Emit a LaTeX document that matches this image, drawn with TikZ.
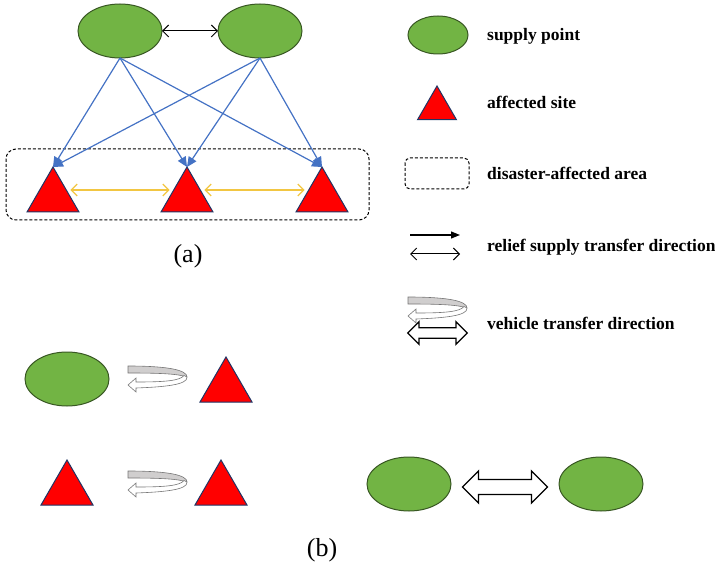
\documentclass[tikz,border=0pt]{standalone}
\usepackage{fontspec}
\setmainfont{Liberation Serif}
\usetikzlibrary{shapes.geometric, arrows.meta}

\definecolor{supplyfill}{RGB}{114,180,68}
\definecolor{supplyedge}{RGB}{56,87,35}
\definecolor{siteedge}{RGB}{32,52,100}
\definecolor{reliefblue}{RGB}{68,114,196}
\definecolor{reliefgold}{RGB}{242,198,66}
\definecolor{turnfill}{RGB}{208,206,206}
\definecolor{turnedge}{RGB}{118,118,118}

\tikzset{
  supply/.style={ellipse, draw=supplyedge, fill=supplyfill, line width=1pt,
    minimum width=84pt, minimum height=54pt, inner sep=0pt, outer sep=0pt},
  site/.style={regular polygon, regular polygon sides=3, draw=siteedge, fill=red,
    line width=1pt, minimum size=60pt, inner sep=0pt, outer sep=0pt},
  area/.style={draw, dashed, dash pattern=on 3pt off 2pt, line width=1pt, rounded corners=10pt},
  legend/.style={anchor=west, font=\fontsize{17.5}{20}\selectfont\bfseries, inner sep=0pt},
  caption/.style={font=\fontsize{26}{30}\selectfont, inner sep=0pt},
  relief/.style={-{Triangle[length=10pt,width=9pt]}, draw=reliefblue, line width=1.2pt},
  swap/.style={{Straight Barb[length=6pt,width=12pt]}-{Straight Barb[length=6pt,width=12pt]}, line width=1pt},
  vehicle arrow/.pic={
    \draw[line width=1.3pt, fill=white, line join=miter]
      (-42.5,0) -- (-26.5,-16) -- (-26.5,-7.5) -- (26.5,-7.5) -- (26.5,-16) -- (42.5,0)
      -- (26.5,16) -- (26.5,7.5) -- (-26.5,7.5) -- (-26.5,16) -- cycle;
  },
  turn arrow/.pic={
    \draw[draw=turnedge, fill=turnfill, line width=.6pt]
      (0,0) .. controls (40,0) and (59,4) .. (59,11) .. controls (50,8) and (35,7) .. (0,7) -- cycle;
    \draw[draw=turnedge, fill=white, line width=.6pt]
      (59,11) .. controls (60,19) and (35,21) .. (8,22) -- (8,26) -- (0,19) -- (8,12) -- (8,16)
      .. controls (35,16) and (52,15) .. (56,9.5) -- cycle;
  }
}

\begin{document}
\begin{tikzpicture}[x=1pt, y=-1pt]
\useasboundingbox (0,0) rectangle (715,564);

% (a) supply points and affected sites
\draw[area] (6,149) rectangle (369,220);
\node[supply] (p1) at (120,31) {};
\node[supply] (p2) at (260,31) {};
\node[site] (s1) at (53,197) {};
\node[site] (s2) at (187,197) {};
\node[site] (s3) at (322,197) {};

% relief supply edges
\draw[swap] (p1.east) -- (p2.west);
\foreach \p in {p1,p2}
  \foreach \s in {s1,s2,s3}
    \draw[relief] (\p.south) -- (\s.corner 1);
\draw[swap, draw=reliefgold, line width=1.3pt] ([yshift=7pt]s1.east) -- ([yshift=7pt]s2.west);
\draw[swap, draw=reliefgold, line width=1.3pt] ([yshift=7pt]s2.east) -- ([yshift=7pt]s3.west);

\node[caption] (capa) at (188,256) {(a)};

% legend
\node[supply, minimum width=60pt, minimum height=38pt] (lp) at (438,35) {};
\node[legend] (lpt) at (487,36) {supply point};
\node[site, minimum size=45pt] (ls) at (437,108.5) {};
\node[legend] (lst) at (487,102) {affected site};
\draw[area, rounded corners=5pt] (405,158) rectangle (469,189);
\node[legend] (lat) at (487,173) {disaster-affected area};
\coordinate (r1) at (410,235);
\coordinate (r2) at (460,235);
\coordinate (r3) at (410,254);
\coordinate (r4) at (460,254);
\draw[-{Triangle[length=9pt,width=7pt]}, line width=1.2pt] (r1) -- (r2);
\draw[swap] (r3) -- (r4);
\node[legend] (lrt) at (487,247) {relief supply transfer direction};
\pic at (408,297) {turn arrow};
\pic[scale=0.7] at (437.5,333) {vehicle arrow};
\node[legend] (lvt) at (487,323) {vehicle transfer direction};

% (b) vehicle transfers
\node[supply] (b1) at (67,379) {};
\node[site] (b2) at (226,387) {};
\pic at (128,366) {turn arrow};
\node[site] (b3) at (67,490) {};
\node[site] (b4) at (221,490) {};
\pic at (128,471) {turn arrow};
\node[supply] (b5) at (409,484) {};
\node[supply] (b6) at (601,484) {};
\pic at (505,487) {vehicle arrow};

\node[caption] (capb) at (322,550) {(b)};

\end{tikzpicture}
\end{document}
